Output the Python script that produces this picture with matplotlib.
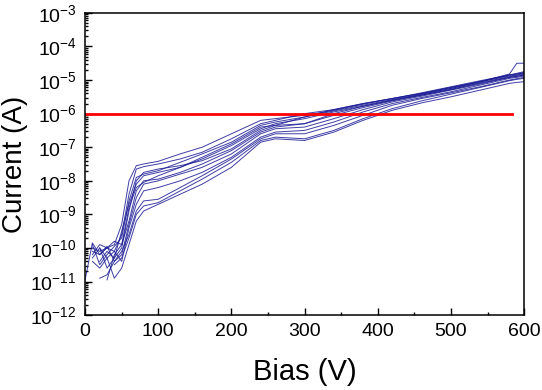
import numpy as np
import matplotlib
matplotlib.use("Agg")
import matplotlib.pyplot as plt
from matplotlib.ticker import LogLocator, LogFormatterMathtext, MultipleLocator

plt.rcParams['font.family'] = ['Liberation Sans', 'DejaVu Sans']
plt.rcParams['mathtext.default'] = 'regular'

# Bias grid (V)
bias = [0, 10, 20, 30, 40, 50, 60, 70, 80, 100, 130, 160, 200, 240, 260,
        300, 340, 380, 420, 460, 500, 540, 580, 590, 600]

nan = np.nan
# log10 of current (A), one array per sweep
sweep_01 = [nan, -10.0, -10.1, -10.0, -9.9, -9.3, -8.0, -7.55, -7.5, -7.42, -7.2, -7.0, -6.6, -6.2, -6.15,
            -6.05, -5.9, -5.72, -5.55, -5.4, -5.22, -5.05, -4.85, -4.8, -4.75]
sweep_02 = [-10.95, -9.85, -10.2, -10.0, -10.1, -9.6, -8.4, -7.65, -7.58, -7.5, -7.35, -7.15, -6.75, -6.3, -6.2,
            -6.0, -5.88, -5.7, -5.55, -5.38, -5.2, -5.02, -4.85, -4.82, -4.78]
sweep_03 = [nan, -9.9, -10.5, -10.2, -9.95, -9.7, -8.6, -7.9, -7.8, -7.7, -7.45, -7.2, -6.85, -6.35, -6.25,
            -6.1, -5.92, -5.75, -5.58, -5.42, -5.25, -5.05, -4.88, -4.85, -4.8]
sweep_04 = [nan, -10.3, -10.0, -10.6, -10.3, -9.5, -8.7, -8.1, -7.85, -7.75, -7.6, -7.35, -6.95, -6.45, -6.3,
            -6.15, -5.95, -5.78, -5.6, -5.45, -5.28, -5.1, -4.92, -4.89, -4.85]
sweep_05 = [nan, nan, -10.4, -10.1, -10.3, -10.0, -8.9, -8.0, -7.75, -7.65, -7.55, -7.4, -7.05, -6.5, -6.35,
            -6.1, -5.88, -5.7, -5.55, -5.4, -5.22, -5.05, -4.85, -4.82, -4.78]
sweep_06 = [nan, nan, nan, -10.95, -10.2, -9.9, -9.2, -8.3, -8.0, -7.95, -7.75, -7.5, -7.1, -6.55, -6.4,
            -6.3, -6.05, -5.82, -5.62, -5.45, -5.28, -5.08, -4.9, -4.86, -4.82]
sweep_07 = [nan, -10.1, -10.2, -9.95, -10.4, -10.2, -9.3, -8.5, -8.1, -8.0, -7.8, -7.6, -7.2, -6.6, -6.45,
            -6.4, -6.15, -5.88, -5.65, -5.48, -5.3, -5.12, -4.92, -4.89, -4.85]
sweep_08 = [nan, -10.4, -10.6, -10.3, -10.1, -10.4, -9.4, -8.7, -8.3, -8.2, -8.0, -7.75, -7.3, -6.7, -6.55,
            -6.5, -6.25, -5.95, -5.7, -5.52, -5.35, -5.15, -4.95, -4.92, -4.88]
sweep_09 = [nan, nan, -10.9, -10.8, -10.4, -10.1, -9.6, -8.9, -8.6, -8.55, -8.2, -7.85, -7.35, -6.75, -6.6,
            -6.6, -6.35, -6.05, -5.75, -5.55, -5.38, -5.2, -5.0, -4.96, -4.92]
sweep_10 = [nan, nan, nan, nan, -10.5, -10.3, -9.7, -9.0, -8.75, -8.65, -8.3, -7.95, -7.45, -6.8, -6.7,
            -6.75, -6.5, -6.15, -5.85, -5.62, -5.42, -5.22, -5.02, -4.98, -4.95]
sweep_11 = [nan, -10.2, -9.9, -10.0, -9.8, -9.9, -8.8, -8.2, -8.05, -7.85, -7.6, -7.3, -6.9, -6.4, -6.35,
            -6.3, -6.0, -5.78, -5.6, -5.43, -5.25, -5.05, -4.82, -4.5, -4.5]
sweep_12 = [nan, nan, -10.0, -10.3, -10.9, -10.6, -9.9, -9.2, -8.9, -8.7, -8.4, -8.1, -7.6, -6.85, -6.75,
            -6.8, -6.55, -6.2, -5.9, -5.68, -5.5, -5.3, -5.1, -5.07, -5.05]

sweeps = [sweep_01, sweep_02, sweep_03, sweep_04, sweep_05, sweep_06,
          sweep_07, sweep_08, sweep_09, sweep_10, sweep_11, sweep_12]

# criterion line
limit_bias = [0, 583]
limit_current = [1e-6, 1e-6]

fig = plt.figure(figsize=(5.42, 3.90), dpi=100)
ax = fig.add_axes([0.157, 0.192, 0.81, 0.775])

for s in sweeps:
    ax.plot(bias, 10.0 ** np.array(s), color='#1c1c96', linewidth=0.7, alpha=0.85)

ax.plot(limit_bias, limit_current, color='#ff0000', linewidth=2.0)

ax.set_yscale('log')
ax.set_xlim(0, 600)
ax.set_ylim(1e-12, 1e-3)

ax.xaxis.set_major_locator(MultipleLocator(100))
ax.xaxis.set_minor_locator(MultipleLocator(50))
ax.yaxis.set_major_locator(LogLocator(base=10, numticks=20))
ax.yaxis.set_minor_locator(LogLocator(base=10, subs=np.arange(2, 10), numticks=20))
ax.yaxis.set_major_formatter(LogFormatterMathtext())

ax.tick_params(which='both', direction='in', top=False, right=False, width=1.0)
ax.tick_params(which='major', length=5, labelsize=14, pad=6)
ax.tick_params(which='minor', length=2.5)
for sp in ax.spines.values():
    sp.set_linewidth(1.1)

ax.set_xlabel('Bias (V)', fontsize=21, va='center')
ax.set_ylabel('Current (A)', fontsize=20, va='center')
ax.xaxis.set_label_coords(0.5, -0.189)
ax.yaxis.set_label_coords(-0.16, 0.5)

fig.savefig('out.png', dpi=100)
